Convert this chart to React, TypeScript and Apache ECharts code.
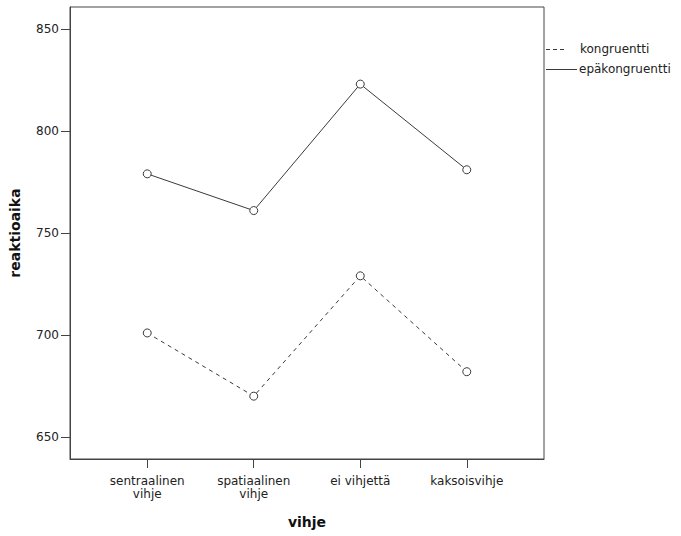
import React, { useEffect, useRef } from "react";
import * as echarts from "echarts";

const categories = ["sentraalinen\nvihje", "spatiaalinen\nvihje", "ei vihjettä", "kaksoisvihje"];
const kongruentti = [701, 670, 729, 682];
const epakongruentti = [779, 761, 823, 781];
const yTicks = [650, 700, 750, 800, 850];
const seriesNames = ["kongruentti", "epäkongruentti"];

const FONT = "'DejaVu Sans', sans-serif";
const LINE = "#3a3a3a";

export default function App() {
  const ref = useRef<HTMLDivElement>(null);
  useEffect(() => {
    if (!ref.current) return;
    const chart = echarts.init(ref.current, undefined, { renderer: "svg" });
    const xs = categories.map((_, i) => i + 1);
    chart.setOption({
      animation: false,
      backgroundColor: "#ffffff",
      textStyle: { fontFamily: FONT },
      grid: {
        left: 70,
        top: 7,
        right: 137,
        bottom: 77,
        show: true,
        borderColor: "#444",
        borderWidth: 1,
        backgroundColor: "transparent",
      },
      xAxis: {
        type: "value",
        min: 0.275,
        max: 4.725,
        name: "vihje",
        nameLocation: "middle",
        nameGap: 56,
        nameTextStyle: { fontFamily: FONT, fontWeight: "bold", fontSize: 14, color: "#111" },
        splitLine: { show: false },
        axisLine: { show: true, lineStyle: { color: "#444", width: 1 } },
        axisTick: { show: true, customValues: xs, length: 9, lineStyle: { color: "#444" } },
        axisLabel: {
          customValues: xs,
          formatter: (v: number) => categories[Math.round(v) - 1] ?? "",
          fontFamily: FONT,
          fontSize: 12,
          color: "#222",
          lineHeight: 13,
          margin: 15,
        },
      },
      yAxis: {
        type: "value",
        min: 639.2,
        max: 860.8,
        name: "reaktioaika",
        nameLocation: "middle",
        nameGap: 48,
        nameRotate: 90,
        nameTextStyle: { fontFamily: FONT, fontWeight: "bold", fontSize: 14, color: "#111" },
        splitLine: { show: false },
        axisLine: { show: true, lineStyle: { color: "#444", width: 1 } },
        axisTick: { show: true, customValues: yTicks, length: 9, lineStyle: { color: "#444" } },
        axisLabel: {
          customValues: yTicks,
          fontFamily: FONT,
          fontSize: 12,
          color: "#222",
          margin: 11,
        },
      },
      series: [
        {
          name: seriesNames[0],
          type: "line",
          data: kongruentti.map((v, i) => [xs[i], v]),
          symbol: "circle",
          symbolSize: 8,
          itemStyle: { color: "#ffffff", borderColor: LINE, borderWidth: 1 },
          lineStyle: { color: LINE, width: 1, type: [4, 4] },
          z: 3,
        },
        {
          name: seriesNames[1],
          type: "line",
          data: epakongruentti.map((v, i) => [xs[i], v]),
          symbol: "circle",
          symbolSize: 8,
          itemStyle: { color: "#ffffff", borderColor: LINE, borderWidth: 1 },
          lineStyle: { color: LINE, width: 1, type: "solid" },
          z: 3,
        },
      ],
      graphic: [
        {
          type: "line",
          shape: { x1: 546, y1: 49.5, x2: 567, y2: 49.5 },
          style: { stroke: LINE, lineWidth: 1, lineDash: [4, 3] },
        },
        {
          type: "text",
          x: 580,
          y: 49,
          style: { text: seriesNames[0], font: `12px ${FONT}`, fill: "#222", verticalAlign: "middle" },
        },
        {
          type: "line",
          shape: { x1: 546, y1: 69.5, x2: 577, y2: 69.5 },
          style: { stroke: LINE, lineWidth: 1 },
        },
        {
          type: "text",
          x: 579,
          y: 69,
          style: { text: seriesNames[1], font: `12px ${FONT}`, fill: "#222", verticalAlign: "middle" },
        },
      ],
    });
    return () => chart.dispose();
  }, []);
  return (
    <div
      ref={ref}
      style={{ position: "fixed", left: 0, top: 0, width: 681, height: 536, background: "#fff" }}
    />
  );
}
